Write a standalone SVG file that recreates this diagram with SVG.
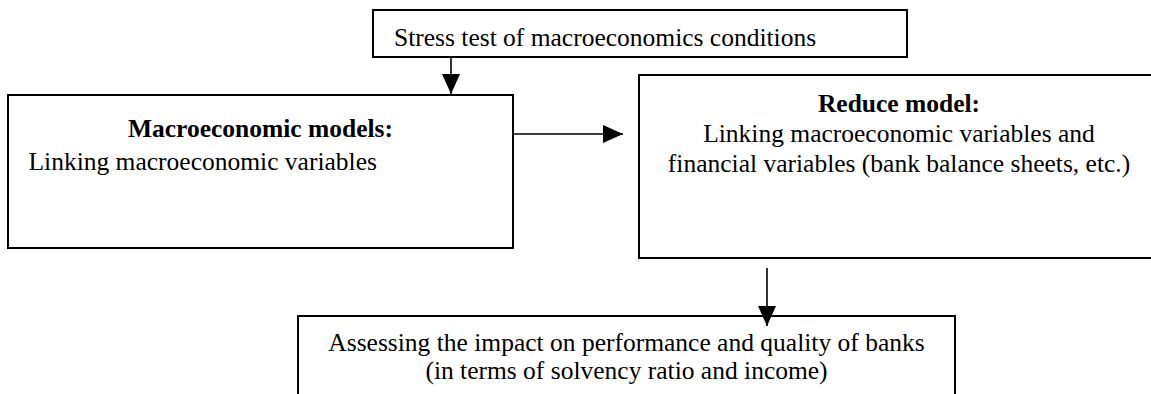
<svg xmlns="http://www.w3.org/2000/svg" width="1151" height="394" viewBox="0 0 1151 394">
<defs>
<style>
.box{fill:#fff;stroke:#000;stroke-width:2}
.t{font-family:"Liberation Serif","Times New Roman",serif;font-size:25.5px;fill:#000}
.b{font-weight:bold}
.c{text-anchor:middle}
.conn{stroke:#000;stroke-width:1.6;fill:none}
</style>
<marker id="ah" markerUnits="userSpaceOnUse" markerWidth="20" markerHeight="20" viewBox="0 0 20 20" refX="20" refY="10" orient="auto">
<path d="M0,1 L20,10 L0,19 Z" fill="#000"/>
</marker>
</defs>
<rect width="1151" height="394" fill="#fff"/>
<g id="stress">
<rect class="box" x="373" y="10" width="534" height="47"/>
<text class="t" x="394" y="46">Stress test of macroeconomics conditions</text>
</g>
<g id="macro">
<rect class="box" x="8" y="95" width="505" height="153"/>
<text class="t b c" x="260.5" y="137">Macroeconomic models:</text>
<text class="t" x="28.5" y="170">Linking macroeconomic variables</text>
</g>
<g id="reduce">
<rect class="box" x="639" y="75" width="530" height="183"/>
<text class="t b c" x="899" y="112">Reduce model:</text>
<text class="t c" x="899" y="142">Linking macroeconomic variables and</text>
<text class="t c" x="899" y="172">financial variables (bank balance sheets, etc.)</text>
</g>
<g id="assess">
<rect class="box" x="298" y="316" width="657" height="100"/>
<text class="t c" x="626.5" y="351">Assessing the impact on performance and quality of banks</text>
<text class="t c" x="626.5" y="379">(in terms of solvency ratio and income)</text>
</g>
<g id="connectors">
<line class="conn" x1="451" y1="57" x2="451" y2="94" marker-end="url(#ah)"/>
<line class="conn" x1="513" y1="134" x2="623" y2="134" marker-end="url(#ah)"/>
<line class="conn" x1="767" y1="268" x2="767" y2="326" marker-end="url(#ah)"/>
</g>
</svg>
